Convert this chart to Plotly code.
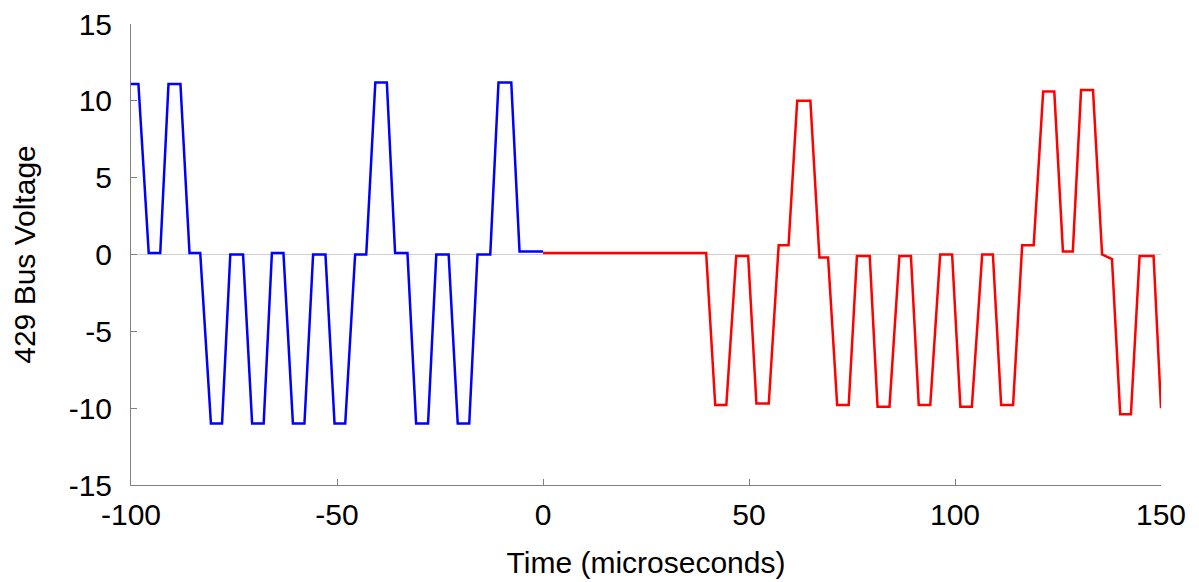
import plotly.graph_objects as go

# 429 bus waveform (time in microseconds, volts)
blue_time = [
    -100, -98.2, -95.7, -92.9, -90.9, -88.0, -85.8, -83.2, -80.6, -77.9,
    -75.9, -72.8, -70.6, -67.8, -65.8, -63.0, -60.7, -57.9, -55.8, -52.8,
    -50.6, -48.0, -45.6, -42.9, -40.7, -37.9, -35.9, -32.9, -30.8, -27.9,
    -25.9, -22.9, -20.7, -17.9, -15.9, -12.8, -10.8, -7.7, -5.7, 0
]
blue_volts = [
    11.1, 11.1, 0.1, 0.1, 11.1, 11.1, 0.1, 0.1, -11.0, -11.0,
    0.0, 0.0, -11.0, -11.0, 0.1, 0.1, -11.0, -11.0, 0.0, 0.0,
    -11.0, -11.0, 0.0, 0.0, 11.2, 11.2, 0.1, 0.1, -11.0, -11.0,
    0.0, 0.0, -11.0, -11.0, 0.0, 0.0, 11.2, 11.2, 0.2, 0.2
]

red_time = [
    0, 39.6, 41.8, 44.5, 46.9, 49.8, 51.8, 54.8, 57.2, 59.6,
    61.7, 64.9, 67.1, 69.2, 71.4, 74.2, 76.2, 79.3, 81.2, 84.1,
    86.5, 89.3, 91.2, 94.0, 96.4, 99.3, 101.3, 104.1, 106.6, 109.2,
    111.2, 114.1, 116.3, 119.1, 121.4, 124.1, 126.2, 128.6, 130.6, 133.5,
    135.7, 138.1, 140.1, 142.7, 144.8, 148.2, 150
]
red_volts = [
    0.1, 0.1, -9.8, -9.8, -0.1, -0.1, -9.7, -9.7, 0.6, 0.6,
    10.0, 10.0, -0.2, -0.2, -9.8, -9.8, -0.1, -0.1, -9.9, -9.9,
    -0.1, -0.1, -9.8, -9.8, 0.0, 0.0, -9.9, -9.9, 0.0, 0.0,
    -9.8, -9.8, 0.6, 0.6, 10.6, 10.6, 0.2, 0.2, 10.7, 10.7,
    0.0, -0.3, -10.4, -10.4, -0.1, -0.1, -10.0
]

x_ticks = [-100, -50, 0, 50, 100, 150]
x_labels = ["-100", "-50", "0", "50", "100", "150"]
y_ticks = [-15, -10, -5, 0, 5, 10, 15]
y_labels = ["-15", "-10", "-5", "0", "5", "10", "15"]

fig = go.Figure()

fig.add_trace(
    go.Scatter(
        x=blue_time,
        y=blue_volts,
        mode="lines",
        line=dict(color="#0000ff", width=2.5),
        hoverinfo="skip"
    )
)

fig.add_trace(
    go.Scatter(
        x=red_time,
        y=red_volts,
        mode="lines",
        line=dict(color="#ff0000", width=2.5),
        hoverinfo="skip"
    )
)

axis_font = dict(family="Liberation Sans, Arial, sans-serif", size=30, color="#000000")

fig.update_xaxes(
    range=[-100, 150],
    tickmode="array",
    tickvals=x_ticks,
    ticktext=x_labels,
    ticks="inside",
    ticklen=6,
    tickcolor="#808080",
    showline=True,
    linecolor="#808080",
    linewidth=1,
    showgrid=False,
    zeroline=False,
    tickfont=axis_font,
    ticklabelstandoff=3,
    ticklabeloverflow="allow",
    automargin=False,
    title=dict(text="Time (microseconds)", font=axis_font, standoff=21),
    fixedrange=True
)

fig.update_yaxes(
    range=[-15, 15],
    tickmode="array",
    tickvals=y_ticks,
    ticktext=y_labels,
    ticks="inside",
    ticklen=6,
    tickcolor="#808080",
    showline=True,
    linecolor="#808080",
    linewidth=1,
    showgrid=False,
    zeroline=True,
    zerolinecolor="#d0d0d0",
    zerolinewidth=1,
    tickfont=axis_font,
    ticklabelstandoff=12,
    ticklabeloverflow="allow",
    automargin=False,
    title=dict(text="429 Bus Voltage", font=axis_font, standoff=31),
    fixedrange=True
)

fig.update_layout(
    width=1199,
    height=582,
    paper_bgcolor="#ffffff",
    plot_bgcolor="#ffffff",
    margin=dict(l=123, r=46, t=16, b=105),
    showlegend=False
)

fig.write_html("out.html")
